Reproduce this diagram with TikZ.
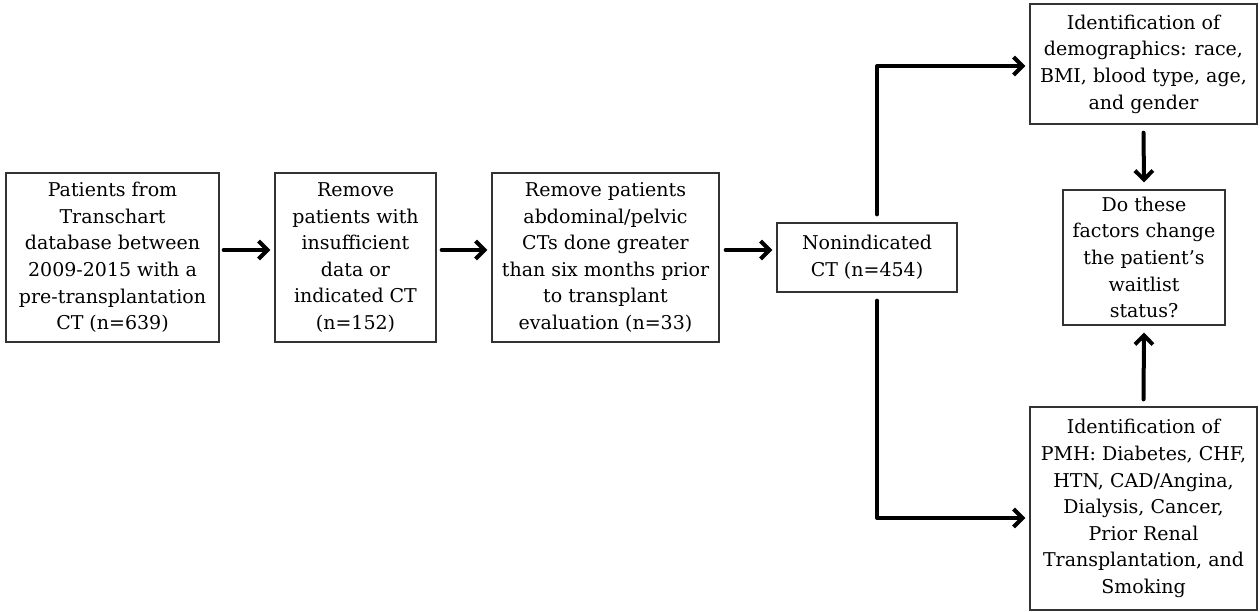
\documentclass[tikz,border=0pt]{standalone}
\usepackage{fontspec}
\setmainfont{DejaVu Serif}
\usetikzlibrary{arrows.meta}
\begin{document}
\begin{tikzpicture}[x=1pt,y=-1pt,
  box/.style={draw=black!80,line width=1.3pt,align=center,inner sep=0pt,
    font=\fontsize{19}{26.6}\selectfont,text=black},
  conn/.style={line width=4pt,line cap=round,line join=round,
    -{Straight Barb[length=9pt,width=18pt,line width=4pt]}}]
\useasboundingbox (0,0) rectangle (1260,611);
\node[box,minimum width=213pt,minimum height=169pt] (b1) at (112.5,257.5)
  {Patients from\\Transchart\\database between\\2009-2015 with a\\pre-transplantation\\CT (n=639)};
\node[box,minimum width=161pt,minimum height=169pt] (b2) at (355.5,257.5)
  {Remove\\patients with\\insufficient\\data or\\indicated CT\\(n=152)};
\node[box,minimum width=227pt,minimum height=169pt] (b3) at (605.5,257.5)
  {Remove patients\\abdominal/pelvic\\CTs done greater\\than six months prior\\to transplant\\evaluation (n=33)};
\node[box,minimum width=180pt,minimum height=69pt] (b4) at (867,257.5)
  {Nonindicated\\CT (n=454)};
\node[box,minimum width=227pt,minimum height=120pt] (b5) at (1143.5,64)
  {Identification of\\demographics: race,\\BMI, blood type, age,\\and gender};
\node[box,minimum width=162pt,minimum height=135pt] (b6) at (1144,257.5)
  {Do these\\factors change\\the patient’s\\waitlist\\status?};
\node[box,minimum width=227pt,minimum height=203pt] (b7) at (1143.5,508.5)
  {Identification of\\PMH: Diabetes, CHF,\\HTN, CAD/Angina,\\Dialysis, Cancer,\\Prior Renal\\Transplantation, and\\Smoking};
\draw[conn] ([xshift=4pt,yshift=7.5pt]b1.east) -- ([xshift=-4pt,yshift=7.5pt]b2.west);
\draw[conn] ([xshift=5pt,yshift=7.5pt]b2.east) -- ([xshift=-4pt,yshift=7.5pt]b3.west);
\draw[conn] ([xshift=6pt,yshift=7.5pt]b3.east) -- ([xshift=-4pt,yshift=7.5pt]b4.west);
\draw[conn] ([xshift=10pt,yshift=8pt]b4.north) |- ([xshift=-4pt,yshift=-2pt]b5.west);
\draw[conn] ([xshift=10pt,yshift=-8pt]b4.south) |- ([xshift=-4pt,yshift=-9.5pt]b7.west);
\draw[conn] ([yshift=-8pt]b5.south) -- ([yshift=7pt]b6.north);
\draw[conn] ([yshift=7pt]b7.north) -- ([yshift=-7pt]b6.south);
\end{tikzpicture}
\end{document}
